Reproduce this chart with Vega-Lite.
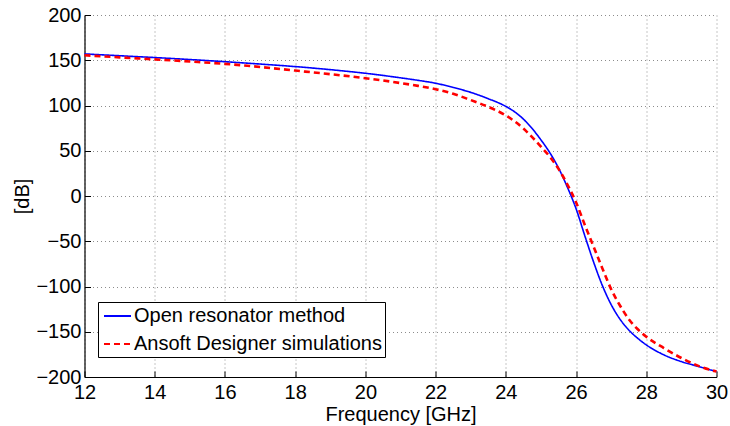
{
  "$schema": "https://vega.github.io/schema/vega-lite/v6.json",
  "width": 632,
  "height": 362,
  "autosize": {"type": "none"},
  "padding": {"left": 84.5, "top": 15, "right": 13.5, "bottom": 49},
  "background": "white",
  "datasets": {
    "open": [
      {"f": 12, "dB": 157, "series": "Open resonator method"},
      {"f": 13, "dB": 155, "series": "Open resonator method"},
      {"f": 14, "dB": 153, "series": "Open resonator method"},
      {"f": 15, "dB": 150.8, "series": "Open resonator method"},
      {"f": 16, "dB": 148.4, "series": "Open resonator method"},
      {"f": 17, "dB": 145.8, "series": "Open resonator method"},
      {"f": 18, "dB": 143, "series": "Open resonator method"},
      {"f": 19, "dB": 139.6, "series": "Open resonator method"},
      {"f": 20, "dB": 135.6, "series": "Open resonator method"},
      {"f": 21, "dB": 130.6, "series": "Open resonator method"},
      {"f": 21.5, "dB": 127.8, "series": "Open resonator method"},
      {"f": 22, "dB": 124.6, "series": "Open resonator method"},
      {"f": 22.5, "dB": 120, "series": "Open resonator method"},
      {"f": 23, "dB": 114.5, "series": "Open resonator method"},
      {"f": 23.5, "dB": 107.5, "series": "Open resonator method"},
      {"f": 24, "dB": 99, "series": "Open resonator method"},
      {"f": 24.25, "dB": 93, "series": "Open resonator method"},
      {"f": 24.5, "dB": 85, "series": "Open resonator method"},
      {"f": 24.75, "dB": 74.5, "series": "Open resonator method"},
      {"f": 25, "dB": 62, "series": "Open resonator method"},
      {"f": 25.25, "dB": 48, "series": "Open resonator method"},
      {"f": 25.5, "dB": 31, "series": "Open resonator method"},
      {"f": 25.75, "dB": 10, "series": "Open resonator method"},
      {"f": 26, "dB": -14, "series": "Open resonator method"},
      {"f": 26.25, "dB": -44, "series": "Open resonator method"},
      {"f": 26.5, "dB": -73, "series": "Open resonator method"},
      {"f": 26.75, "dB": -99, "series": "Open resonator method"},
      {"f": 27, "dB": -120, "series": "Open resonator method"},
      {"f": 27.25, "dB": -136, "series": "Open resonator method"},
      {"f": 27.5, "dB": -148, "series": "Open resonator method"},
      {"f": 27.75, "dB": -157, "series": "Open resonator method"},
      {"f": 28, "dB": -164.5, "series": "Open resonator method"},
      {"f": 28.5, "dB": -175.5, "series": "Open resonator method"},
      {"f": 29, "dB": -183, "series": "Open resonator method"},
      {"f": 29.5, "dB": -188.5, "series": "Open resonator method"},
      {"f": 30, "dB": -194, "series": "Open resonator method"}
    ],
    "ansoft": [
      {"f": 12, "dB": 155.5, "series": "Ansoft Designer simulations"},
      {"f": 13, "dB": 153.2, "series": "Ansoft Designer simulations"},
      {"f": 14, "dB": 151, "series": "Ansoft Designer simulations"},
      {"f": 15, "dB": 148.6, "series": "Ansoft Designer simulations"},
      {"f": 16, "dB": 146, "series": "Ansoft Designer simulations"},
      {"f": 17, "dB": 142.6, "series": "Ansoft Designer simulations"},
      {"f": 18, "dB": 138.6, "series": "Ansoft Designer simulations"},
      {"f": 19, "dB": 134.6, "series": "Ansoft Designer simulations"},
      {"f": 20, "dB": 130.2, "series": "Ansoft Designer simulations"},
      {"f": 21, "dB": 124.8, "series": "Ansoft Designer simulations"},
      {"f": 21.5, "dB": 121.7, "series": "Ansoft Designer simulations"},
      {"f": 22, "dB": 118, "series": "Ansoft Designer simulations"},
      {"f": 22.5, "dB": 113, "series": "Ansoft Designer simulations"},
      {"f": 23, "dB": 106, "series": "Ansoft Designer simulations"},
      {"f": 23.5, "dB": 98.5, "series": "Ansoft Designer simulations"},
      {"f": 24, "dB": 89, "series": "Ansoft Designer simulations"},
      {"f": 24.25, "dB": 82.5, "series": "Ansoft Designer simulations"},
      {"f": 24.5, "dB": 74.5, "series": "Ansoft Designer simulations"},
      {"f": 24.75, "dB": 65, "series": "Ansoft Designer simulations"},
      {"f": 25, "dB": 54.5, "series": "Ansoft Designer simulations"},
      {"f": 25.25, "dB": 43.5, "series": "Ansoft Designer simulations"},
      {"f": 25.5, "dB": 30, "series": "Ansoft Designer simulations"},
      {"f": 25.75, "dB": 13, "series": "Ansoft Designer simulations"},
      {"f": 26, "dB": -7, "series": "Ansoft Designer simulations"},
      {"f": 26.25, "dB": -32, "series": "Ansoft Designer simulations"},
      {"f": 26.5, "dB": -56, "series": "Ansoft Designer simulations"},
      {"f": 26.75, "dB": -80, "series": "Ansoft Designer simulations"},
      {"f": 27, "dB": -103, "series": "Ansoft Designer simulations"},
      {"f": 27.25, "dB": -121, "series": "Ansoft Designer simulations"},
      {"f": 27.5, "dB": -136, "series": "Ansoft Designer simulations"},
      {"f": 27.75, "dB": -147, "series": "Ansoft Designer simulations"},
      {"f": 28, "dB": -155.5, "series": "Ansoft Designer simulations"},
      {"f": 28.5, "dB": -168, "series": "Ansoft Designer simulations"},
      {"f": 29, "dB": -179, "series": "Ansoft Designer simulations"},
      {"f": 29.5, "dB": -188, "series": "Ansoft Designer simulations"},
      {"f": 30, "dB": -194, "series": "Ansoft Designer simulations"}
    ]
  },
  "encoding": {
    "x": {
      "field": "f",
      "type": "quantitative",
      "scale": {"domain": [12, 30], "nice": false, "zero": false},
      "axis": {
        "title": "Frequency [GHz]",
        "values": [12, 14, 16, 18, 20, 22, 24, 26, 28, 30],
        "labelBaseline": "alphabetic",
        "labelPadding": 27.5,
        "titleY": 43,
        "titleBaseline": "alphabetic"
      }
    },
    "y": {
      "field": "dB",
      "type": "quantitative",
      "scale": {"domain": [-200, 200], "nice": false, "zero": false},
      "axis": {
        "title": "[dB]",
        "values": [-200, -150, -100, -50, 0, 50, 100, 150, 200],
        "labelExpr": "replace(datum.label, '-', '\u2212')",
        "labelBaseline": "middle",
        "labelPadding": 9.5,
        "titleX": -62.5,
        "titleY": 181,
        "titleAngle": -90,
        "titleAlign": "center",
        "titleBaseline": "middle"
      }
    },
    "color": {
      "field": "series",
      "type": "nominal",
      "scale": {
        "domain": ["Open resonator method", "Ansoft Designer simulations"],
        "range": ["#0000ff", "#ff0000"]
      },
      "legend": {
        "orient": "none",
        "legendX": 13.5,
        "legendY": 287,
        "title": null,
        "strokeColor": "black",
        "fillColor": "white",
        "padding": 3,
        "labelFontSize": 20,
        "labelColor": "black",
        "labelLimit": 600,
        "labelOffset": 11,
        "symbolType": "M-0.8,0H1.9",
        "symbolSize": 400,
        "symbolStrokeWidth": 2,
        "rowPadding": 7
      }
    },
    "strokeDash": {
      "field": "series",
      "type": "nominal",
      "scale": {
        "domain": ["Open resonator method", "Ansoft Designer simulations"],
        "range": [[1, 0], [6, 4]]
      },
      "legend": {
        "orient": "none",
        "legendX": 13.5,
        "legendY": 287,
        "title": null,
        "strokeColor": "black",
        "fillColor": "white",
        "padding": 3,
        "labelFontSize": 20,
        "labelColor": "black",
        "labelLimit": 600,
        "labelOffset": 11,
        "symbolType": "M-0.8,0H1.9",
        "symbolSize": 400,
        "symbolStrokeWidth": 2,
        "rowPadding": 7
      }
    }
  },
  "layer": [
    {
      "data": {"name": "open"},
      "mark": {"type": "line", "interpolate": "monotone", "strokeWidth": 1.6}
    },
    {
      "data": {"name": "ansoft"},
      "mark": {"type": "line", "interpolate": "monotone", "strokeWidth": 2.6}
    }
  ],
  "config": {
    "view": {"stroke": null},
    "font": "Liberation Sans",
    "axis": {
      "grid": true,
      "gridColor": "#8c8c8c",
      "gridDash": [1, 3],
      "gridWidth": 1,
      "gridOpacity": 1,
      "domainColor": "black",
      "domainWidth": 1.2,
      "tickColor": "black",
      "tickWidth": 1,
      "tickSize": -6,
      "labelFontSize": 20,
      "labelColor": "black",
      "labelFlush": false,
      "labelOverlap": false,
      "titleFontSize": 20,
      "titleFontWeight": "normal",
      "titleColor": "black"
    }
  }
}
